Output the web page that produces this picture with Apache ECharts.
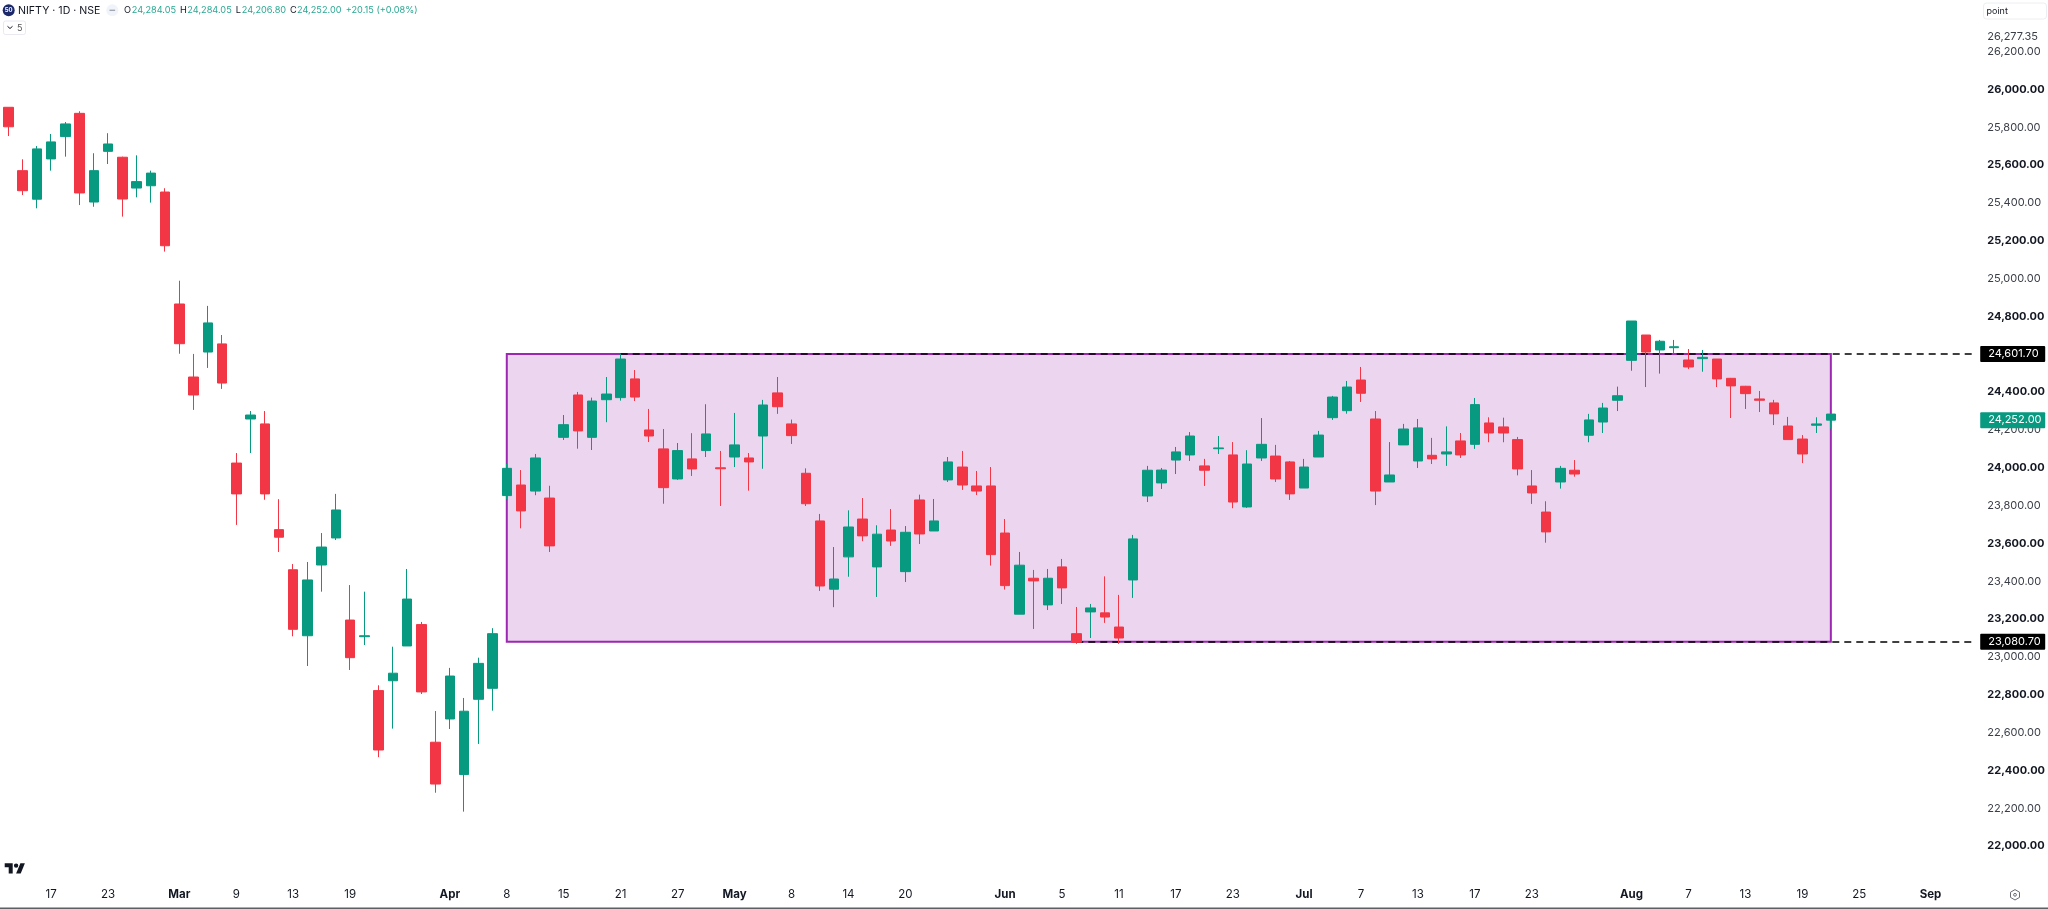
<!DOCTYPE html>
<html><head><meta charset="utf-8">
<style>html,body{margin:0;padding:0;background:#fff;overflow:hidden}#c{width:2048px;height:909px}</style>
<script src="https://cdn.jsdelivr.net/npm/echarts@6/dist/echarts.min.js"></script>
</head><body><div id="c"></div>
<script>
const opens = [25906,25571,25420,25633,25751,25874,25405,25673,25642,25479,25491,25458,24866,24480,24612,24655,24025,24258,24232,23673,23461,23112,23486,23629,23195,23107,22822,22874,23058,23171,22549,22672,22378,22776,22834,23853,23909,23877,23840,24161,24385,24161,24360,24371,24470,24200,24100,23941,24047,24091,24000,24057,24052,24168,24396,24232,23971,23719,23358,23529,23729,23476,23671,23451,23830,23666,23936,24004,23904,23904,23655,23226,23416,23275,23476,23123,23238,23233,23158,23407,23851,23920,24041,24068,24010,24101,24068,23793,24052,24062,24031,23893,24057,24265,24302,24464,24258,23925,24121,24036,24066,24073,24142,24124,24237,24216,24149,23904,23766,23925,23987,24172,24242,24357,24568,24702,24623,24635,24570,24577,24575,24473,24431,24364,24343,24221,24152,24225,24284.05];
const closes = [25803,25465,25686,25723,25818,25453,25571,25712,25421,25513,25558,25174,24656,24385,24766,24448,23862,24279,23862,23633,23146,23407,23581,23777,22996,23112,22508,22914,23306,22815,22328,22899,22713,22966,23123,23997,23772,24052,23587,24228,24195,24353,24390,24575,24374,24168,23895,24091,23994,24179,23995,24121,24031,24332,24323,24170,23810,23375,23412,23687,23640,23649,23613,23659,23650,23719,24031,23909,23877,23541,23377,23485,23402,23416,23365,23077,23259,23211,23100,23624,23987,23988,24084,24168,23987,24105,23819,24020,24124,23941,23862,24004,24173,24374,24427,24394,23877,23962,24205,24211,24047,24084,24068,24334,24184,24184,23994,23867,23661,23997,23967,24253,24316,24381,24776,24612,24669,24640,24533,24584,24470,24433,24392,24357,24285,24149,24073,24232,24252.00];
const lows = [25754,25442,25372,25571,25645,25389,25380,25606,25328,25430,25402,25143,24603,24306,24528,24417,23698,24078,23831,23555,23109,22952,23345,23618,22931,23063,22470,22621,23058,22804,22282,22619,22182,22540,22716,23834,23680,23855,23555,24147,24101,24094,24241,24355,24353,24136,23810,23936,23957,24057,23798,24004,23879,23995,24285,24126,23798,23349,23263,23424,23612,23317,23587,23396,23597,23666,23925,23883,23856,23483,23356,23226,23148,23248,23280,23069,23100,23180,23069,23312,23819,23888,23967,24036,23904,24073,23786,23788,24036,23925,23830,23893,24057,24253,24286,24348,23803,23925,24121,23999,24020,24010,24052,24100,24135,24135,23960,23809,23604,23890,23953,24135,24184,24300,24513,24427,24498,24602,24522,24508,24427,24263,24311,24295,24226,24149,24025,24184,24206.80];
const highs = [25906,25631,25701,25765,25828,25885,25663,25769,25645,25652,25571,25478,24989,24602,24856,24702,24078,24300,24300,23834,23491,23502,23655,23862,23380,23345,22850,23054,23465,23185,22714,22942,22783,22996,23152,24020,23988,24073,23905,24279,24401,24371,24480,24602,24517,24311,24205,24131,24183,24336,24089,24290,24078,24359,24480,24255,23997,23756,23581,23775,23840,23696,23782,23692,23858,23835,24057,24089,23983,24004,23729,23555,23460,23465,23518,23264,23280,23426,23328,23645,24010,23999,24110,24189,24047,24168,24136,24093,24263,24121,24036,24047,24195,24380,24459,24533,24300,24136,24232,24258,24158,24219,24184,24369,24267,24265,24163,23988,23823,24010,24041,24285,24343,24429,24776,24702,24676,24676,24628,24623,24575,24475,24433,24406,24359,24269,24173,24267,24284.05];

const slotCount = 139;
const timeLabels = {3:'17',7:'23',12:'Mar',16:'9',20:'13',24:'19',31:'Apr',35:'8',39:'15',43:'21',47:'27',51:'May',55:'8',59:'14',63:'20',70:'Jun',74:'5',78:'11',82:'17',86:'23',91:'Jul',95:'7',99:'13',103:'17',107:'23',114:'Aug',118:'7',122:'13',126:'19',130:'25',135:'Sep'};
const priceTicks = [26277.35,26200,26000,25800,25600,25400,25200,25000,24800,24400,24200,24000,23800,23600,23400,23200,23000,22800,22600,22400,22200,22000];
const rangeTop = 24601.70, rangeBottom = 23080.70, lastPrice = 24252.00;
const rangeStartIdx = 35, rangeEndIdx = 128, topDashIdx = 43, bottomDashIdx = 75;

const UP='#089981', DOWN='#F23645', FONT='Inter, "Noto Sans", sans-serif', TXT='#131722';
const categories = Array.from({length:slotCount},(_,i)=>'d'+i);
const candleData = opens.map((o,i)=>{
  const v=[o,closes[i],lows[i],highs[i]];
  return i===opens.length-1 ? {value:v,itemStyle:{color0:UP,borderColor0:UP}} : v;
});
const fmt=v=>v.toLocaleString('en-US',{minimumFractionDigits:2,maximumFractionDigits:2});
const priceBox=(bg)=>({show:true,position:'end',distance:7,formatter:p=>fmt(p.value),color:'#fff',backgroundColor:bg,
  fontFamily:FONT,fontSize:11,padding:[3,3,2,8],width:54,align:'left',verticalAlign:'middle',borderRadius:1});
const dash={color:'#000',type:[7,5],width:1.5,opacity:1};

const chart=echarts.init(document.getElementById('c'),null,{renderer:'canvas'});
const t=(x,y,text,o={})=>({type:'text',x,y,z:20,silent:true,style:Object.assign({text,font:'400 9.2px '+FONT,fill:TXT,textVerticalAlign:'middle'},o)});
chart.setOption({
  animation:false,backgroundColor:'#fff',
  grid:{left:1.38,width:1979.36,top:13.85,height:870.05,containLabel:false},
  xAxis:{type:'category',data:categories,boundaryGap:true,
    axisLine:{show:false},axisTick:{show:false},splitLine:{show:false},
    axisLabel:{interval:0,margin:5,hideOverlap:false,
      formatter:(v,i)=>{const s=timeLabels[i];if(!s)return '';return /\d/.test(s)?s:'{b|'+s+'}';},
      color:TXT,fontFamily:FONT,fontSize:11.5,
      rich:{b:{fontFamily:FONT,fontSize:11.5,fontWeight:700,color:TXT}}}},
  yAxis:{type:'value',position:'right',min:21800,max:26400,scale:true,
    axisLine:{show:false},axisTick:{show:false},splitLine:{show:false},
    axisLabel:{customValues:priceTicks,margin:7,showMinLabel:true,showMaxLabel:true,
      formatter:v=>{const s=fmt(v);return v%400===0?'{b|'+s+'}':s;},
      color:'#3a3e47',fontFamily:FONT,fontSize:11,
      rich:{b:{fontFamily:FONT,fontSize:11,fontWeight:700,color:TXT}}}},
  series:[{
    type:'candlestick',data:candleData,barWidth:10,z:5,
    itemStyle:{color:UP,color0:DOWN,borderColor:UP,borderColor0:DOWN,borderWidth:1},
    markArea:{silent:true,z:1,
      itemStyle:{color:'#EBD5EF',borderColor:'#9C27B0',borderWidth:2},
      data:[[{xAxis:rangeStartIdx,yAxis:rangeTop},{xAxis:rangeEndIdx,yAxis:rangeBottom}]]},
    markLine:{silent:true,symbol:'none',z:3,animation:false,
      data:[
        [{coord:[topDashIdx,rangeTop],lineStyle:dash,label:priceBox('#000')},{coord:[slotCount-1,rangeTop],value:rangeTop}],
        [{coord:[bottomDashIdx,rangeBottom],lineStyle:dash,label:priceBox('#000')},{coord:[slotCount-1,rangeBottom],value:rangeBottom}],
        [{coord:[rangeEndIdx,lastPrice],lineStyle:{color:'rgba(0,0,0,0)',width:1,type:'solid',opacity:1},label:priceBox(UP)},{coord:[slotCount-1,lastPrice],value:lastPrice}]
      ]}
  }],
  graphic:{elements:[
    {type:'circle',shape:{cx:8.7,cy:10.3,r:6},style:{fill:'#1c2a6b'},z:20,silent:true},
    t(8.7,10.5,'50',{font:'700 6px '+FONT,fill:'#fff',textAlign:'center'}),
    t(18,10.5,'NIFTY · 1D · NSE',{font:'400 10.6px '+FONT}),
    {type:'circle',shape:{cx:112.3,cy:10.3,r:6},style:{fill:'#f0f3fa'},z:20,silent:true},
    {type:'rect',shape:{x:109.5,y:9.6,width:5.6,height:1.4},style:{fill:'#a3a6af'},z:21,silent:true},
    t(124,10.5,'O',{}),t(131.7,10.5,'24,284.05',{fill:'#2aa791'}),
    t(180,10.5,'H',{}),t(187.3,10.5,'24,284.05',{fill:'#2aa791'}),
    t(235.7,10.5,'L',{}),t(241.7,10.5,'24,206.80',{fill:'#2aa791'}),
    t(290,10.5,'C',{}),t(297,10.5,'24,252.00',{fill:'#2aa791'}),
    t(345.7,10.5,'+20.15 (+0.08%)',{fill:'#2aa791'}),
    {type:'rect',shape:{x:3.5,y:21,width:22,height:13.5,r:2},style:{fill:'#fff',stroke:'#e8eaf0',lineWidth:1},z:20,silent:true},
    {type:'polyline',shape:{points:[[7.5,26.3],[10,28.5],[12.5,26.3]]},style:{stroke:TXT,fill:'none',lineWidth:1},z:21,silent:true},
    t(17,28.2,'5',{font:'400 9px '+FONT,fill:'#555'}),
    {type:'rect',shape:{x:1983.5,y:3,width:63,height:16,r:3},style:{fill:'#fff',stroke:'#eceef2',lineWidth:1},z:20,silent:true},
    t(1986.5,11,'point',{font:'400 9px '+FONT}),
    {type:'polygon',shape:{points:[[4.7,863.3],[12.7,863.3],[12.7,873.5],[8.7,873.5],[8.7,867.3],[4.7,867.3]]},style:{fill:'#131722'},z:20,silent:true},
    {type:'polygon',shape:{points:[[16.1,873.5],[20.4,863.3],[24.9,863.3],[20.7,873.5]]},style:{fill:'#131722'},z:20,silent:true},
    {type:'circle',shape:{cx:16.1,cy:865.6,r:2.2},style:{fill:'#131722'},z:20,silent:true},
    {type:'rect',shape:{x:0,y:907.5,width:2048,height:1.5},style:{fill:'#5d5f63'},z:20,silent:true},
    {type:'polygon',shape:{points:[[2015,889.6],[2019.5,892.2],[2019.5,897.4],[2015,900],[2010.5,897.4],[2010.5,892.2]]},style:{fill:'#fff',stroke:'#6a6d78',lineWidth:1},z:20,silent:true},
    {type:'circle',shape:{cx:2015,cy:894.8,r:1.4},style:{fill:'none',stroke:'#6a6d78',lineWidth:1},z:21,silent:true}
  ]}
});
</script></body></html>
